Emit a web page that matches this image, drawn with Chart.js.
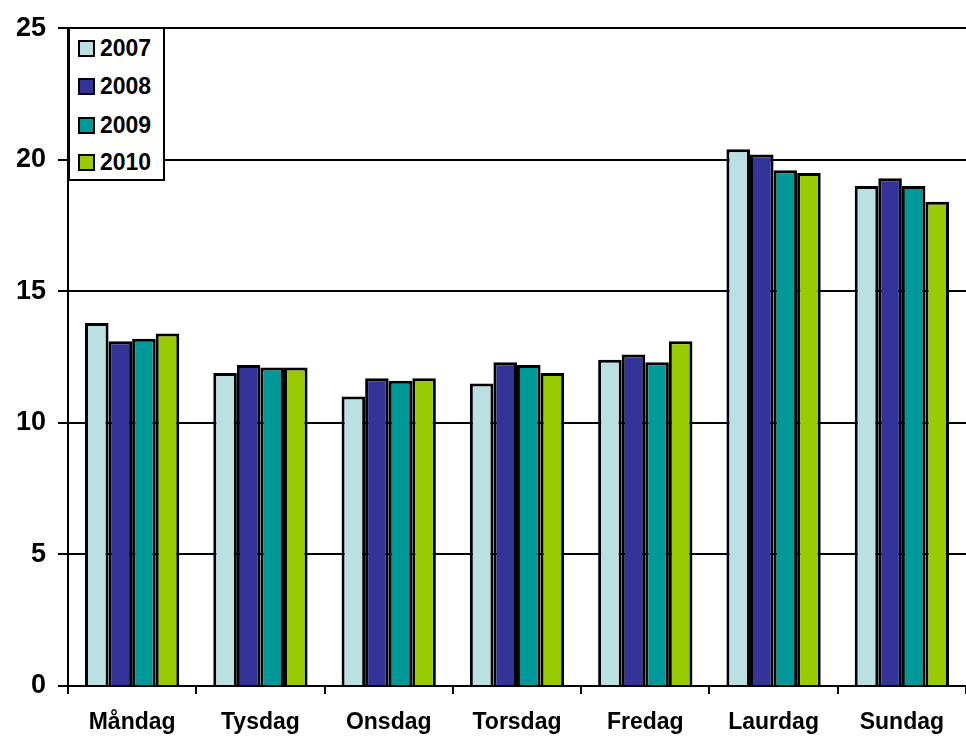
<!DOCTYPE html>
<html>
<head>
<meta charset="utf-8">
<script src="https://cdn.jsdelivr.net/npm/chart.js@4/dist/chart.umd.min.js"></script>
<style>
  html, body { margin: 0; padding: 0; background: #fff; }
  #wrap { position: relative; width: 966px; height: 736px; }
  #chart { position: absolute; left: 0; top: 0; }
  #legend {
    position: absolute; left: 68px; top: 27px; width: 93px; height: 150px;
    border: 2px solid #000; background: #fff;
    font-family: "Liberation Sans", Arial, sans-serif; font-weight: bold; font-size: 23px;
  }
  #legend .item { position: absolute; left: 8px; height: 24px; line-height: 24px; display: flex; align-items: center; }
  #legend .sw { width: 13px; height: 13px; border: 2px solid #000; margin-right: 5px; }
</style>
</head>
<body>
<div id="wrap">
  <canvas id="chart" width="966" height="736"></canvas>
  <div id="legend"></div>
</div>
<script>
// Weekday categories and yearly share values
const days = ["Måndag", "Tysdag", "Onsdag", "Torsdag", "Fredag", "Laurdag", "Sundag"];
const years = ["2007", "2008", "2009", "2010"];
const values2007 = [13.8, 11.9, 11.0, 11.5, 12.4, 20.4, 19.0];
const values2008 = [13.1, 12.2, 11.7, 12.3, 12.6, 20.2, 19.3];
const values2009 = [13.2, 12.1, 11.6, 12.2, 12.3, 19.6, 19.0];
const values2010 = [13.4, 12.1, 11.7, 11.9, 13.1, 19.5, 18.4];
const yTicks = [0, 5, 10, 15, 20, 25];
const colors = ["#BBE0E3", "#333399", "#009999", "#99CC00"];

const series = [values2007, values2008, values2009, values2010];

const datasets = years.map((y, i) => ({
  label: y,
  data: series[i],
  backgroundColor: colors[i],
  borderColor: "#000",
  borderWidth: 3,
  borderSkipped: "bottom",
  categoryPercentage: 0.735,
  barPercentage: 1.0
}));

// legend box drawn inside the plot area
const legendEl = document.getElementById("legend");
const rowTops = [7, 45, 84, 121];
years.forEach((y, i) => {
  const it = document.createElement("div");
  it.className = "item";
  it.style.top = rowTops[i] + "px";
  const sw = document.createElement("span");
  sw.className = "sw";
  sw.style.background = colors[i];
  const tx = document.createElement("span");
  tx.textContent = y;
  it.appendChild(sw);
  it.appendChild(tx);
  legendEl.appendChild(it);
});

const font = "'Liberation Sans', Arial, sans-serif";

new Chart(document.getElementById("chart"), {
  type: "bar",
  data: { labels: days, datasets },
  options: {
    responsive: false,
    animation: false,
    layout: { padding: { top: 28, right: 0, left: 0, bottom: 0 } },
    plugins: { legend: { display: false }, tooltip: { enabled: false } },
    scales: {
      x: {
        grid: { offset: true, drawOnChartArea: false, drawTicks: true, tickLength: 8, color: "#000", lineWidth: 2 },
        border: { color: "#000", width: 2 },
        ticks: { color: "#000", font: { family: font, size: 23, weight: "bold" }, padding: 15, maxRotation: 0 },
        afterFit: (s) => { s.height = 50; }
      },
      y: {
        min: 0, max: 25,
        afterBuildTicks: (s) => { s.ticks = yTicks.map(v => ({ value: v })); },
        grid: { color: "#000", lineWidth: 2, tickLength: 10 },
        border: { color: "#000", width: 2 },
        ticks: { color: "#000", font: { family: font, size: 27, weight: "bold" }, padding: 12 },
        afterFit: (s) => { s.width = 68; }
      }
    }
  }
});
</script>
</body>
</html>
